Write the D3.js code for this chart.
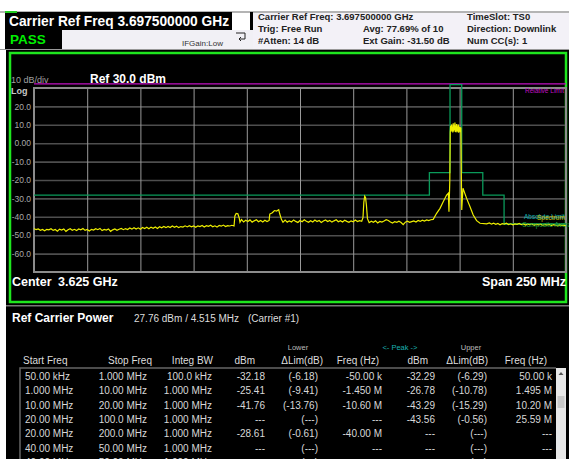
<!DOCTYPE html>
<html>
<head>
<style>
body { margin: 0; background: #fff; }
svg text { font-family: "Liberation Sans", Arial, sans-serif; }
</style>
</head>
<body>
<script src="https://d3js.org/d3.v7.min.js"></script>
<script>
// ---- data ----
const yTicks = [20, 10, 0, -10, -20, -30, -40, -50, -60]
const yTickLabels = ["20.0", "10.0", "0.00", "-10.0", "-20.0", "-30.0", "-40.0", "-50.0", "-60.0"]
const xGrid = [3525, 3550, 3575, 3600, 3625, 3650, 3675, 3700, 3725]   // MHz
const relativeLimit = 32.2   // dBm

// limit mask (MHz, dBm)
const mask = [
  [3500, -28.2], [3685.8, -28.2], [3685.8, -16], [3695.5, -16], [3695.5, 31.8],
  [3701, 31.8], [3701, -16], [3710.9, -16], [3710.9, -28.2], [3720.9, -28.2],
  [3720.9, -43.9], [3750, -43.9]
]

// spectrum trace (MHz, dBm)
const trace = [
  [3500, -46.4], [3501, -47.0], [3502, -46.6], [3503, -47.3], [3504, -46.9], [3505, -47.6],
  [3506, -46.8], [3507, -47.1], [3508, -46.5], [3509, -47.4], [3510, -46.9], [3511, -47.8],
  [3512, -46.7], [3513, -47.2], [3514, -46.6], [3515, -47.9], [3516, -47.0], [3517, -46.5],
  [3518, -47.3], [3519, -46.8], [3520, -47.5], [3521, -46.6], [3522, -47.1], [3523, -46.4],
  [3524, -47.4], [3525, -46.9], [3526, -47.7], [3527, -46.8], [3528, -47.2], [3529, -46.5],
  [3530, -47.0], [3531, -46.3], [3532, -47.5], [3533, -46.9], [3534, -47.2], [3535, -46.6],
  [3536, -47.9], [3537, -47.1], [3538, -46.6], [3539, -47.3], [3540, -46.8], [3541, -46.3],
  [3542, -47.0], [3543, -46.4], [3544, -46.9], [3545, -46.1], [3546, -46.7], [3547, -45.9],
  [3548, -46.6], [3549, -46.0], [3550, -46.8], [3551, -45.8], [3552, -46.4], [3553, -45.7],
  [3554, -46.5], [3555, -45.6], [3556, -46.2], [3557, -45.5], [3558, -46.3], [3559, -45.4],
  [3560, -46.0], [3561, -45.3], [3562, -45.9], [3563, -45.2], [3564, -45.8], [3565, -45.0],
  [3566, -45.7], [3567, -45.1], [3568, -45.9], [3569, -45.3], [3570, -45.6], [3571, -44.9],
  [3572, -45.5], [3573, -44.8], [3574, -45.4], [3575, -45.0], [3576, -45.7], [3577, -44.9],
  [3578, -45.3], [3579, -44.7], [3580, -45.5], [3581, -44.8], [3582, -45.2], [3583, -44.6],
  [3584, -45.4], [3585, -44.9], [3586, -45.6], [3587, -44.7], [3588, -45.1], [3589, -44.5],
  [3590, -45.3], [3591, -44.8], [3592, -45.0], [3593, -44.6], [3594, -45.0],
  [3594.4, -39.5], [3595, -38.2], [3595.8, -38.4], [3596.4, -40.5], [3596.8, -43.0],
  [3597.5, -41.5], [3598.5, -42.8], [3599.5, -41.9], [3600.5, -42.6], [3601.5, -41.7],
  [3602.5, -42.9], [3603.5, -42.2], [3604.5, -41.6], [3605.5, -42.7], [3606.5, -42.0],
  [3607.5, -42.8], [3608.5, -41.9], [3609.5, -42.6], [3610.5, -42.0],
  [3610.8, -38.5], [3612, -37.8], [3613, -36.6], [3614, -36.9], [3615, -36.2], [3615.5, -38.5],
  [3616.3, -41.5], [3617, -43.0], [3618, -41.8], [3619, -42.9], [3620, -42.2], [3621, -42.8],
  [3622, -41.7], [3623, -42.5], [3624, -43.1], [3625, -42.0], [3626, -42.7], [3627, -41.6],
  [3628, -42.4], [3629, -43.0], [3630, -42.1], [3631, -42.8], [3632, -41.8], [3633, -42.6],
  [3634, -42.0], [3635, -43.1], [3636, -42.3], [3637, -41.7], [3638, -42.6], [3639, -42.0],
  [3640, -42.9], [3641, -42.2], [3642, -41.6], [3643, -42.7], [3644, -42.1], [3645, -42.8],
  [3646, -41.9], [3647, -42.5], [3648, -43.0], [3649, -42.2], [3650, -42.7], [3651, -41.8],
  [3652, -42.6], [3653, -42.1], [3654, -42.4],
  [3654.6, -40.5], [3655, -32.0], [3655.4, -28.8], [3655.8, -29.5], [3656.2, -33.5],
  [3656.7, -41.0], [3657.5, -43.2], [3658.5, -42.4], [3659.5, -43.0], [3660.5, -42.2],
  [3661.5, -43.3], [3662.5, -42.5], [3663.5, -42.9], [3664.5, -42.3], [3665.5, -41.6],
  [3666.5, -42.0], [3667.5, -42.8], [3668.5, -43.4], [3669.5, -42.6], [3670.5, -43.0],
  [3671.5, -42.4], [3672.5, -43.1], [3673.5, -44.3], [3674.5, -42.9], [3675.5, -42.4],
  [3676.5, -43.0], [3677.5, -42.6], [3678.5, -42.2], [3679.5, -42.8], [3680.5, -42.0],
  [3681.5, -42.5], [3682.5, -41.8], [3683.5, -42.3], [3684.5, -41.7], [3685.5, -42.1],
  [3686.5, -41.6], [3687.6, -41.4], [3689.2, -38.1], [3690.8, -35.4],
  [3692.3, -31.8], [3693.9, -28.2], [3694.7, -27.2], [3695.0, -37.2], [3695.4, -20.0],
  [3695.6, 6.0], [3695.8, 9.5], [3696.0, 6.2], [3696.2, 10.2], [3696.4, 6.8], [3696.6, 9.0],
  [3696.8, 5.8], [3697.0, 10.8], [3697.2, 6.4], [3697.4, 9.8], [3697.6, 7.0], [3697.8, 11.3],
  [3698.0, 6.1], [3698.2, 9.6], [3698.4, 5.9], [3698.6, 10.4], [3698.8, 6.6], [3699.0, 9.2],
  [3699.2, 6.0], [3699.4, 10.1], [3699.6, 5.7], [3699.8, 9.0], [3700.0, 6.3], [3700.2, 8.8],
  [3700.4, 6.0], [3700.6, 8.5], [3700.8, -15.0], [3701.0, -36.3], [3701.3, -30.0],
  [3701.6, -24.5], [3703.3, -30.0], [3704.9, -34.5], [3706.4, -39.0], [3708.0, -42.1],
  [3709.6, -43.5], [3712.7, -43.8], [3714, -43.3], [3715, -44.0], [3716, -43.5], [3717, -44.1],
  [3718, -43.6], [3719, -44.3], [3720, -43.7], [3721, -44.0], [3722, -43.5], [3723, -44.2],
  [3724, -43.8], [3725, -44.4], [3726, -43.9], [3727, -44.1], [3728, -43.6], [3729, -44.3],
  [3730, -43.9], [3731, -44.5], [3732, -44.0], [3733, -44.2], [3734, -43.8], [3735, -44.6],
  [3736, -44.1], [3737, -44.4], [3738, -44.0], [3739, -44.7], [3740, -44.2], [3741, -44.5],
  [3742, -44.1], [3743, -44.8], [3744, -44.3], [3745, -44.6], [3746, -44.9], [3747, -44.4],
  [3748, -44.8], [3749, -44.5], [3750, -45.0]
]

// result table
const startFreq = ["50.00 kHz", "1.000 MHz", "10.00 MHz", "20.00 MHz", "20.00 MHz", "40.00 MHz", "40.00 MHz"]
const stopFreq = ["1.000 MHz", "10.00 MHz", "20.00 MHz", "100.0 MHz", "200.0 MHz", "50.00 MHz", "50.00 MHz"]
const integBw = ["100.0 kHz", "1.000 MHz", "1.000 MHz", "1.000 MHz", "1.000 MHz", "1.000 MHz", "1.000 MHz"]
const lowerDbm = ["-32.18", "-25.41", "-41.76", "---", "-28.61", "---", "---"]
const lowerLim = ["(-6.18)", "(-9.41)", "(-13.76)", "(---)", "(-0.61)", "(---)", "(---)"]
const lowerFreq = ["-50.00 k", "-1.450 M", "-10.60 M", "---", "-40.00 M", "---", "---"]
const upperDbm = ["-32.29", "-26.78", "-43.29", "-43.56", "---", "---", "---"]
const upperLim = ["(-6.29)", "(-10.78)", "(-15.29)", "(-0.56)", "(---)", "(---)", "(---)"]
const upperFreq = ["50.00 k", "1.495 M", "10.20 M", "25.59 M", "---", "---", "---"]

const W = 569, H = 459
const svg = d3.select("body").append("svg").attr("width", W).attr("height", H)

// ---- header ----
svg.append("rect").attr("width", W).attr("height", H).attr("fill", "#fff")
svg.append("rect").attr("x", 0).attr("y", 11).attr("width", W).attr("height", 2).attr("fill", "#b4b4b4")
svg.append("rect").attr("x", 253).attr("y", 13).attr("width", 316).attr("height", 36).attr("fill", "#f3f1f7")
svg.append("rect").attr("x", 62).attr("y", 30).attr("width", 191).attr("height", 19).attr("fill", "#f1f0f5")
svg.append("rect").attr("x", 5).attr("y", 12).attr("width", 227).attr("height", 18).attr("fill", "#000")
svg.append("rect").attr("x", 250).attr("y", 12).attr("width", 3).attr("height", 18).attr("fill", "#000")
svg.append("rect").attr("x", 5).attr("y", 30).attr("width", 57).attr("height", 19).attr("fill", "#000")
svg.append("rect").attr("x", 5).attr("y", 11).attr("width", 12).attr("height", 2).attr("fill", "#2c2")

svg.append("text").attr("x", 9).attr("y", 26).attr("fill", "#fff")
  .attr("textLength", 220).attr("lengthAdjust", "spacingAndGlyphs")
  .style("font-size", "14px").style("font-weight", "bold")
  .text("Carrier Ref Freq 3.697500000 GHz")
svg.append("text").attr("x", 10).attr("y", 44).attr("fill", "#0e0")
  .style("font-size", "13.5px").style("font-weight", "bold").text("PASS")
svg.append("text").attr("x", 182).attr("y", 46).attr("fill", "#333")
  .style("font-size", "8px").text("IFGain:Low")
// small enter icon
svg.append("path").attr("d", "M236,33 h9 v6 h-6 M241,37 l-2,2 l2,2")
  .attr("fill", "none").attr("stroke", "#222").attr("stroke-width", 1)

const info = [
  ["Carrier Ref Freq: 3.697500000 GHz", 258, 20], ["TimeSlot: TS0", 467, 20],
  ["Trig: Free Run", 258, 32], ["Avg: 77.69% of 10", 363, 32], ["Direction: Downlink", 467, 32],
  ["#Atten: 14 dB", 258, 44], ["Ext Gain: -31.50 dB", 363, 44], ["Num CC(s): 1", 467, 44]
]
svg.selectAll("text.info").data(info).enter().append("text").attr("class", "info")
  .attr("x", d => d[1]).attr("y", d => d[2]).attr("fill", "#222")
  .style("font-size", "9.5px").style("font-weight", "bold").text(d => d[0])

svg.append("rect").attr("x", 0).attr("y", 49).attr("width", W).attr("height", 1).attr("fill", "#999")

// ---- plot panel ----
svg.append("rect").attr("x", 6).attr("y", 50).attr("width", W - 6).attr("height", H - 50).attr("fill", "#000")
svg.append("rect").attr("x", 10).attr("y", 53).attr("width", 556).attr("height", 249)
  .attr("fill", "none").attr("stroke", "#1ee61e").attr("stroke-width", 2.5)
svg.append("rect").attr("x", 6).attr("y", 305).attr("width", W - 6).attr("height", 1.5).attr("fill", "#777")

const pL = 34, pR = 566, pT = 88, pB = 272
const x = d3.scaleLinear().domain([3500, 3750]).range([pL, pR])
const y = d3.scaleLinear().domain([-70, 30]).range([pB, pT])

// horizontal grid + y labels
const gy = svg.append("g").attr("transform", `translate(${pL},0)`)
  .call(d3.axisLeft(y).tickValues(yTicks).tickSize(-(pR - pL)).tickPadding(3)
    .tickFormat((d, i) => yTickLabels[i]))
gy.select(".domain").remove()
gy.selectAll("line").attr("stroke", "#4e4e4e").attr("stroke-width", 1.6)
gy.selectAll("text").attr("fill", "#a8a8a8").style("font-size", "8.5px")
  .style("font-family", "'Liberation Sans', Arial, sans-serif")

// vertical grid
const gx = svg.append("g").attr("transform", `translate(0,${pB})`)
  .call(d3.axisBottom(x).tickValues(xGrid).tickSize(-(pB - pT)).tickFormat(""))
gx.select(".domain").remove()
gx.selectAll("line").attr("stroke", "#9a9a9a").attr("stroke-width", 1)

svg.append("rect").attr("x", pL).attr("y", pT).attr("width", pR - pL).attr("height", pB - pT)
  .attr("fill", "none").attr("stroke", "#8c8c8c").attr("stroke-width", 2)

// relative limit
svg.append("line").attr("x1", pL).attr("x2", pR)
  .attr("y1", y(relativeLimit)).attr("y2", y(relativeLimit))
  .attr("stroke", "#c010c0").attr("stroke-width", 1.3)

const line = d3.line().x(d => x(d[0])).y(d => y(d[1]))
svg.append("path").datum(mask).attr("d", line)
  .attr("fill", "none").attr("stroke", "#0a9a5a").attr("stroke-width", 1.3)
svg.append("path").datum(trace).attr("d", line)
  .attr("fill", "none").attr("stroke", "#eeee00").attr("stroke-width", 1.2)

// labels in plot
svg.append("text").attr("x", 11).attr("y", 83).attr("fill", "#a0a0a0").style("font-size", "9px").text("10 dB/div")
svg.append("text").attr("x", 11).attr("y", 94).attr("fill", "#c8c8c8").style("font-size", "9px").style("font-weight", "bold").text("Log")
svg.append("text").attr("x", 90).attr("y", 83).attr("fill", "#fff").style("font-size", "12px").style("font-weight", "bold").text("Ref 30.0 dBm")
svg.append("text").attr("x", 564).attr("y", 93).attr("text-anchor", "end").attr("fill", "#c010c0").style("font-size", "6.5px").text("Relative Limit")
svg.append("text").attr("x", 524).attr("y", 219).attr("fill", "#10b0b0").style("font-size", "6.5px").text("Absolute Limit")
svg.append("text").attr("x", 537).attr("y", 220).attr("fill", "#c8c810").style("font-size", "6.5px").text("Spectrum")
svg.append("text").attr("x", 522).attr("y", 227).attr("fill", "#20a040").style("font-size", "6.5px").text("Composite Average")
svg.append("text").attr("x", 12).attr("y", 286).attr("fill", "#fff").style("font-size", "12.5px").style("font-weight", "bold").text("Center")
svg.append("text").attr("x", 58).attr("y", 286).attr("fill", "#fff").style("font-size", "12.5px").style("font-weight", "bold").text("3.625 GHz")
svg.append("text").attr("x", 566).attr("y", 286).attr("text-anchor", "end").attr("fill", "#fff").style("font-size", "12.5px").style("font-weight", "bold").text("Span 250 MHz")

// ---- result table ----
svg.append("text").attr("x", 12).attr("y", 322).attr("fill", "#fff").style("font-size", "12px").style("font-weight", "bold").text("Ref Carrier Power")
svg.append("text").attr("x", 134).attr("y", 322).attr("fill", "#ddd").style("font-size", "10px").text("27.76 dBm / 4.515 MHz")
svg.append("text").attr("x", 248).attr("y", 322).attr("fill", "#ddd").style("font-size", "10px").text("(Carrier #1)")

const head1 = [["Lower", 298, "#bbb"], ["<- Peak ->", 400, "#1ab0b0"], ["Upper", 471, "#bbb"]]
svg.selectAll("text.h1").data(head1).enter().append("text").attr("class", "h1")
  .attr("x", d => d[1]).attr("y", 350).attr("text-anchor", "middle").attr("fill", d => d[2])
  .style("font-size", "7.5px").text(d => d[0])

const cols = [
  ["Start Freq", 23, "start", startFreq, 25, "start"],
  ["Stop Freq", 152, "end", stopFreq, 147, "end"],
  ["Integ BW", 213, "end", integBw, 212, "end"],
  ["dBm", 255, "end", lowerDbm, 265, "end"],
  ["\u0394Lim(dB)", 323, "end", lowerLim, 318, "end"],
  ["Freq (Hz)", 379, "end", lowerFreq, 382, "end"],
  ["dBm", 428, "end", upperDbm, 435, "end"],
  ["\u0394Lim(dB)", 488, "end", upperLim, 487, "end"],
  ["Freq (Hz)", 547, "end", upperFreq, 552, "end"]
]
cols.forEach(c => {
  svg.append("text").attr("x", c[1]).attr("y", 364).attr("text-anchor", c[2])
    .attr("fill", "#ddd").style("font-size", "10px").text(c[0])
  svg.selectAll(null).data(c[3]).enter().append("text")
    .attr("x", c[4]).attr("y", (d, i) => 380 + i * 14.3).attr("text-anchor", c[5])
    .attr("fill", "#d8d8d8").style("font-size", "10px").text(d => d)
})

svg.append("path").attr("d", "M20,459 V368 H556").attr("fill", "none").attr("stroke", "#666").attr("stroke-width", 1.5)
// scrollbar
svg.append("rect").attr("x", 556).attr("y", 368).attr("width", 10).attr("height", 91).attr("fill", "#e8e8e8")
svg.append("rect").attr("x", 557.5).attr("y", 396).attr("width", 7).attr("height", 12).attr("fill", "#c8c8c8")
svg.append("path").attr("d", "M558.5,375 l2.5,-3 l2.5,3 z").attr("fill", "#555")
</script>
</body>
</html>
